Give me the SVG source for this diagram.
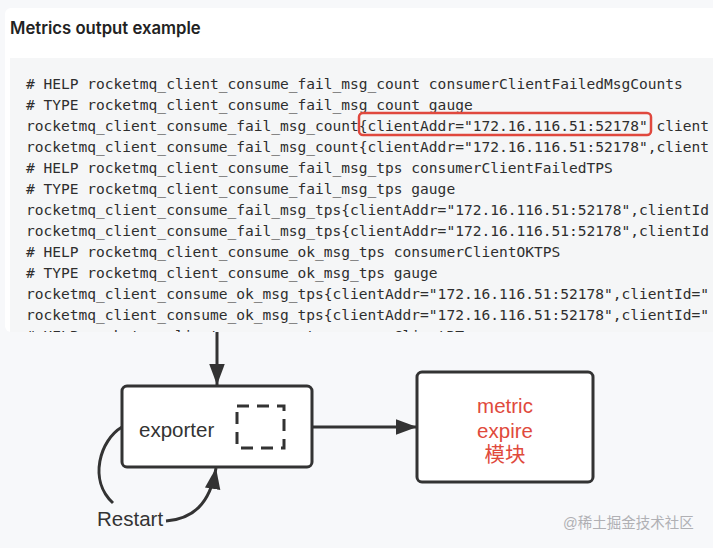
<svg xmlns="http://www.w3.org/2000/svg" width="713" height="548" viewBox="0 0 713 548">
<style>
.code{font-family:"DejaVu Sans Mono","Liberation Mono",monospace;font-size:14.55px;fill:#2e2e2e;white-space:pre}
.box{fill:#fff;stroke:#333;stroke-width:3}
.lbl{font-family:"Liberation Sans","Noto Sans CJK SC",sans-serif;font-size:20.5px;fill:#333}
.red{font-family:"Liberation Sans","Noto Sans CJK SC",sans-serif;font-size:20.5px;fill:#e04a3c;text-anchor:middle}
.conn{fill:none;stroke:#333;stroke-width:3}
</style>
<defs>
<marker id="ah" viewBox="0 0 10 10" refX="10" refY="5" markerWidth="7" markerHeight="7" markerUnits="strokeWidth" orient="auto">
<path d="M0,1.3 L10,5 L0,8.7 z" fill="#333"/>
</marker>
<clipPath id="codeclip"><rect x="10" y="58" width="703" height="274"/></clipPath>
</defs>
<rect width="713" height="548" fill="#f7f8fa"/>
<g id="screenshot">
<rect x="5" y="8" width="720" height="324" rx="6" fill="#ffffff"/>
<text x="10" y="34" font-family="Inter,'Liberation Sans',sans-serif" font-weight="600" font-size="16.7" fill="#222">Metrics output example</text>
<rect x="10" y="58" width="710" height="274" fill="#f5f6f7"/>
<g clip-path="url(#codeclip)">
<text class="code" x="26" y="89"># HELP rocketmq_client_consume_fail_msg_count consumerClientFailedMsgCounts</text>
<text class="code" x="26" y="110"># TYPE rocketmq_client_consume_fail_msg_count gauge</text>
<text class="code" x="26" y="131">rocketmq_client_consume_fail_msg_count{clientAddr="172.16.116.51:52178" client</text>
<text class="code" x="26" y="152">rocketmq_client_consume_fail_msg_count{clientAddr="172.16.116.51:52178",client</text>
<text class="code" x="26" y="173"># HELP rocketmq_client_consume_fail_msg_tps consumerClientFailedTPS</text>
<text class="code" x="26" y="194"># TYPE rocketmq_client_consume_fail_msg_tps gauge</text>
<text class="code" x="26" y="215">rocketmq_client_consume_fail_msg_tps{clientAddr="172.16.116.51:52178",clientId</text>
<text class="code" x="26" y="236">rocketmq_client_consume_fail_msg_tps{clientAddr="172.16.116.51:52178",clientId</text>
<text class="code" x="26" y="257"># HELP rocketmq_client_consume_ok_msg_tps consumerClientOKTPS</text>
<text class="code" x="26" y="278"># TYPE rocketmq_client_consume_ok_msg_tps gauge</text>
<text class="code" x="26" y="299">rocketmq_client_consume_ok_msg_tps{clientAddr="172.16.116.51:52178",clientId="</text>
<text class="code" x="26" y="320">rocketmq_client_consume_ok_msg_tps{clientAddr="172.16.116.51:52178",clientId="</text>
<text class="code" x="26" y="341"># HELP rocketmq_client_consume_rt consumerClientRT</text>
</g>
<rect x="359" y="113" width="292" height="22" rx="4" fill="none" stroke="#e0483e" stroke-width="2.5"/>
</g>
<g id="connectors">
<line class="conn" x1="217" y1="332" x2="217" y2="385" marker-end="url(#ah)"/>
<line class="conn" x1="285" y1="427" x2="417" y2="427" marker-end="url(#ah)"/>
<path class="conn" d="M122,427 C100,440 88,480 113,503"/>
<path class="conn" d="M166,521 C192,519 210,505 216,468" marker-end="url(#ah)"/>
</g>
<g id="exporter">
<rect class="box" x="122" y="386" width="190" height="81" rx="5"/>
<text class="lbl" x="139" y="437">exporter</text>
<rect x="237" y="406" width="47" height="42" fill="none" stroke="#333" stroke-width="3" stroke-dasharray="12,8"/>
</g>
<g id="restart">
<text class="lbl" x="97" y="526">Restart</text>
</g>
<g id="metric-expire">
<rect class="box" x="417" y="372" width="176" height="110" rx="5"/>
<text class="red" x="505" y="413">metric</text>
<text class="red" x="505" y="438">expire</text>
<text class="red" x="505" y="462">模块</text>
</g>
<text x="563" y="528" font-family="'Liberation Sans','Noto Sans CJK SC',sans-serif" font-size="14.5" fill="#b0b0b4">@稀土掘金技术社区</text>
</svg>
